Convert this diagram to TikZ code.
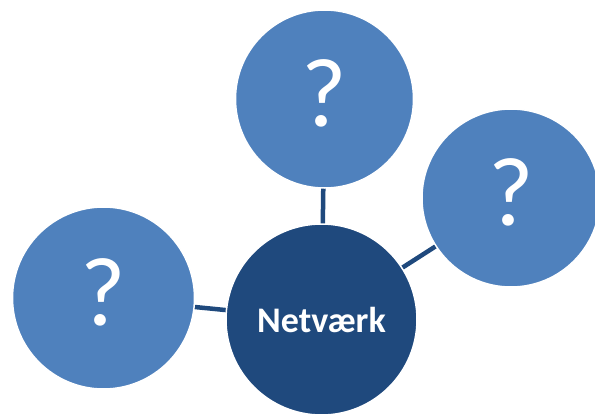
\documentclass[tikz,border=0pt]{standalone}
\usepackage{fontspec}
\setmainfont{Carlito}
\definecolor{lightblue}{HTML}{4F81BD}
\definecolor{darkblue}{HTML}{1F497D}
\tikzset{
  bubble/.style={circle, fill=lightblue, draw=white, line width=1.5pt, inner sep=0pt,
    text=white, font=\fontsize{98}{98}\selectfont, text height=64pt, text depth=10pt},
  hub/.style={circle, fill=darkblue, draw=white, line width=1.5pt, inner sep=0pt,
    text=white, font=\fontsize{36}{36}\selectfont\bfseries, minimum size=191pt},
  link/.style={draw=darkblue, line width=4.5pt}
}
\begin{document}
\begin{tikzpicture}[x=1pt,y=-1pt]
\useasboundingbox (0,0) rectangle (595,413);
\clip (0,0) rectangle (595,413);
\coordinate (ctop) at (324.5,99);
\coordinate (cright) at (511,198);
\coordinate (cleft) at (103.5,298);
\coordinate (chub) at (321.5,319.5);
\draw[link] (ctop) -- (chub);
\draw[link] (cright) -- (chub);
\draw[link] (cleft) -- (chub);
\node[bubble, minimum size=178pt] (top) at (ctop) {?};
\node[bubble, minimum size=178pt] (right) at (cright) {?};
\node[bubble, minimum size=182pt] (left) at (cleft) {?};
\node[hub] (hub) at (chub) {Netværk};
\end{tikzpicture}
\end{document}
